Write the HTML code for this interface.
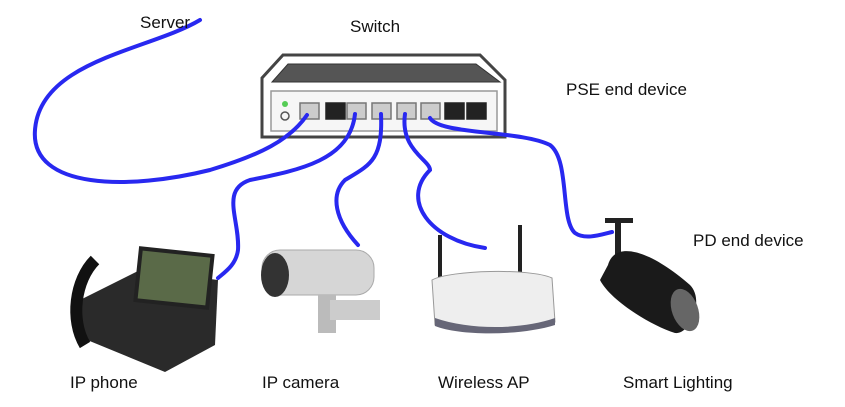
<!DOCTYPE html>
<html><head><meta charset="utf-8"><style>
html,body{margin:0;padding:0;background:#fff;}
svg{display:block}
text{font-family:"Liberation Sans",sans-serif;font-size:17px;fill:#111}
</style></head><body>
<svg width="845" height="407" viewBox="0 0 845 407" xmlns="http://www.w3.org/2000/svg">
<!-- switch -->
<polygon points="283,55 480,55 505,80 505,137 262,137 262,78" fill="#fff" stroke="#444" stroke-width="3"/>
<polygon points="288,64 476,64 500,82 272,82" fill="#555" stroke="#333" stroke-width="1"/>
<rect x="271" y="91" width="226" height="40" fill="#f6f6f6" stroke="#999" stroke-width="1.5"/>
<circle cx="285" cy="104" r="3" fill="#5c5"/>
<circle cx="285" cy="116" r="4" fill="none" stroke="#555" stroke-width="1.5"/>
<g stroke="#777" stroke-width="1.5">
<rect x="300" y="103" width="19" height="16" fill="#ccc"/>
<rect x="326" y="103" width="19" height="16" fill="#222" stroke="#222"/>
<rect x="347" y="103" width="19" height="16" fill="#ccc"/>
<rect x="372" y="103" width="19" height="16" fill="#ccc"/>
<rect x="397" y="103" width="19" height="16" fill="#ccc"/>
<rect x="421" y="103" width="19" height="16" fill="#ccc"/>
<rect x="445" y="103" width="19" height="16" fill="#222" stroke="#222"/>
<rect x="467" y="103" width="19" height="16" fill="#222" stroke="#222"/>
</g>
<!-- cables -->
<g fill="none" stroke="#2828f0" stroke-width="4" stroke-linecap="round">
<path d="M200,20 C150,50 40,60 35,130 C30,190 130,190 210,170 C260,155 290,140 307,115"/>
<path d="M355,114 C350,160 300,170 250,180 C220,190 240,220 238,250 C236,265 225,272 218,278"/>
<path d="M381,114 C383,160 370,165 345,180 C330,195 335,220 358,245"/>
<path d="M405,114 C400,150 430,160 430,170 C400,200 430,240 485,248"/>
<path d="M430,118 C440,135 520,130 550,145 C570,160 560,220 575,233 C585,240 600,235 612,232"/>
</g>
<!-- IP phone -->
<polygon points="80,300 140,270 218,280 215,345 165,372 75,335" fill="#2a2a2a"/>
<path d="M95,260 C75,280 70,320 85,345" stroke="#111" stroke-width="12" fill="none"/>
<rect x="138" y="252" width="72" height="52" fill="#5a6a48" stroke="#222" stroke-width="4" transform="rotate(6 174 278)"/>
<!-- IP camera -->
<rect x="262" y="250" width="112" height="45" rx="18" fill="#d6d6d6" stroke="#aaa"/>
<ellipse cx="275" cy="275" rx="14" ry="22" fill="#333"/>
<rect x="318" y="295" width="18" height="38" fill="#bbb"/>
<rect x="330" y="300" width="50" height="20" fill="#ccc"/>
<!-- AP -->
<rect x="438" y="235" width="4" height="45" fill="#222"/>
<rect x="518" y="225" width="4" height="50" fill="#222"/>
<path d="M432,280 C450,270 530,268 552,278 L555,322 C520,335 460,335 435,325 Z" fill="#eee" stroke="#999"/>
<path d="M435,318 C470,330 520,330 555,318 L555,325 C520,336 460,336 435,326Z" fill="#667"/>
<!-- lighting -->
<rect x="605" y="218" width="28" height="5" fill="#222"/>
<rect x="615" y="220" width="6" height="48" fill="#222"/>
<path d="M608,265 C615,240 650,250 690,285 C705,300 690,335 675,333 C650,325 610,300 600,280 Z" fill="#1a1a1a"/>
<ellipse cx="685" cy="310" rx="13" ry="22" fill="#666" transform="rotate(-20 685 310)"/>
<!-- labels -->
<text x="140" y="28">Server</text>
<text x="350" y="32">Switch</text>
<text x="566" y="95">PSE end device</text>
<text x="693" y="246">PD end device</text>
<text x="70" y="388">IP phone</text>
<text x="262" y="388">IP camera</text>
<text x="438" y="388">Wireless AP</text>
<text x="623" y="388">Smart Lighting</text>
</svg>
</body></html>
